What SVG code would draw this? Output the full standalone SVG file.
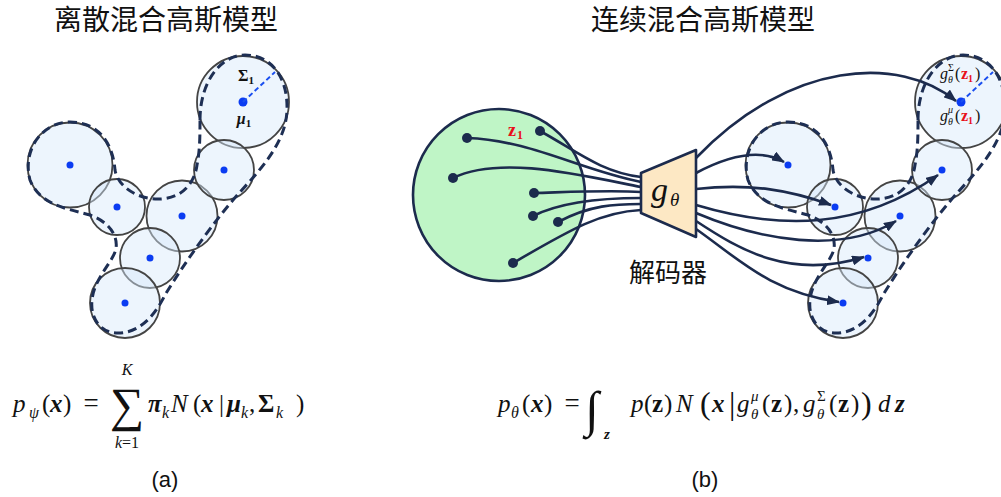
<svg xmlns="http://www.w3.org/2000/svg" width="1001" height="497" viewBox="0 0 1001 497">
<defs>
<style>
.cjk{font-family:"Noto Sans CJK SC","Noto Sans CJK JP",sans-serif;fill:#111}
.m{font-family:"Liberation Serif","DejaVu Serif",serif;fill:#111}
.i{font-style:italic}
.b{font-weight:bold}
.lab{font-family:"Liberation Sans",Arial,sans-serif;font-size:22px;fill:#111}
.gc{fill:#d6e8fa;fill-opacity:0.45;stroke:#444;stroke-width:1.8}
.dot{fill:#0b3cf2}
.outline{fill:none;stroke:#1e2f54;stroke-width:3;stroke-dasharray:9 5}
.rad{stroke:#1a4ff0;stroke-width:2;stroke-dasharray:5 3}
.ln{fill:none;stroke:#1c2b4d;stroke-width:2.6}
.ar{fill:none;stroke:#1c2b4d;stroke-width:2.6;marker-end:url(#ah)}
.zd{fill:#1c2b4d}
.red{fill:#e8101a}
</style>
<marker id="ah" markerUnits="userSpaceOnUse" markerWidth="13" markerHeight="10" refX="12" refY="5" orient="auto">
<path d="M0,0 L13,5 L0,10 Z" fill="#1c2b4d"/>
</marker>
<path id="outl" d="M 200 120 C 200 80, 222 55, 245 55 C 272 55, 288 78, 287 110 C 286 140, 265 165, 240 192 C 215 220, 185 262, 165 295 C 155 315, 140 333, 118 333 C 100 333, 90 318, 92 300 C 94 280, 110 265, 115 252 C 120 238, 110 222, 90 215 C 65 208, 40 205, 30 180 C 22 150, 42 122, 70 122 C 100 122, 113 145, 115 170 C 118 188, 140 200, 160 199 C 185 198, 195 180, 197 165 C 200 150, 200 135, 200 120 Z"/>
</defs>
<rect width="1001" height="497" fill="#fff"/>

<text class="cjk" x="166" y="30" font-size="28" text-anchor="middle">离散混合高斯模型</text>
<text class="cjk" x="703" y="30" font-size="28" text-anchor="middle">连续混合高斯模型</text>

<!-- left discrete GMM -->
<g id="gmm-a">
<g id="a-c1"><circle class="gc" cx="243" cy="102" r="46"/><circle class="dot" cx="243" cy="102" r="4.5"/></g>
<g id="a-c2"><circle class="gc" cx="70" cy="165" r="42.5"/><circle class="dot" cx="70" cy="165" r="3.5"/></g>
<g id="a-c3"><circle class="gc" cx="117" cy="207" r="28"/><circle class="dot" cx="117" cy="207" r="3.5"/></g>
<g id="a-c4"><circle class="gc" cx="182" cy="216" r="35.5"/><circle class="dot" cx="182" cy="216" r="3.5"/></g>
<g id="a-c5"><circle class="gc" cx="224" cy="170" r="30"/><circle class="dot" cx="224" cy="170" r="3.5"/></g>
<g id="a-c6"><circle class="gc" cx="150" cy="258" r="30"/><circle class="dot" cx="150" cy="258" r="3.5"/></g>
<g id="a-c7"><circle class="gc" cx="125" cy="303" r="35"/><circle class="dot" cx="125" cy="303" r="3.5"/></g>
<use href="#outl" class="outline"/>
<line class="rad" x1="243" y1="102" x2="275" y2="72"/>
<text class="m b" x="246" y="81" font-size="16" text-anchor="middle">Σ<tspan font-size="11" dy="3">1</tspan></text>
<text class="m b i" x="244" y="124" font-size="16" text-anchor="middle">μ<tspan font-size="11" dy="3" font-style="normal">1</tspan></text>
</g>

<!-- right continuous GMM cluster -->
<g id="gmm-b">
<g id="b-c1"><circle class="gc" cx="961" cy="102" r="46"/><circle class="dot" cx="961" cy="102" r="4.5"/></g>
<g id="b-c2"><circle class="gc" cx="788" cy="165" r="42.5"/><circle class="dot" cx="788" cy="165" r="3.5"/></g>
<g id="b-c3"><circle class="gc" cx="835" cy="207" r="28"/><circle class="dot" cx="835" cy="207" r="3.5"/></g>
<g id="b-c4"><circle class="gc" cx="900" cy="216" r="35.5"/><circle class="dot" cx="900" cy="216" r="3.5"/></g>
<g id="b-c5"><circle class="gc" cx="942" cy="170" r="30"/><circle class="dot" cx="942" cy="170" r="3.5"/></g>
<g id="b-c6"><circle class="gc" cx="868" cy="258" r="30"/><circle class="dot" cx="868" cy="258" r="3.5"/></g>
<g id="b-c7"><circle class="gc" cx="843" cy="303" r="35"/><circle class="dot" cx="843" cy="303" r="3.5"/></g>
<use href="#outl" class="outline" transform="translate(718,0)"/>
<line class="rad" x1="961" y1="102" x2="993" y2="72"/>
<text class="m i" x="940" y="79" font-size="16">g</text>
<text class="m" x="948" y="71" font-size="10">Σ</text>
<text class="m i" x="948" y="83" font-size="10">θ</text>
<text class="m" x="955" y="79" font-size="16">(</text>
<text class="m b red" x="961" y="79" font-size="16">z</text>
<text class="m b red" x="968" y="82" font-size="10">1</text>
<text class="m" x="975" y="79" font-size="16">)</text>
<text class="m i" x="940" y="121" font-size="16">g</text>
<text class="m i" x="948" y="113" font-size="10">μ</text>
<text class="m i" x="948" y="125" font-size="10">θ</text>
<text class="m" x="955" y="121" font-size="16">(</text>
<text class="m b red" x="961" y="121" font-size="16">z</text>
<text class="m b red" x="968" y="124" font-size="10">1</text>
<text class="m" x="975" y="121" font-size="16">)</text>
</g>

<!-- latent space -->
<g id="latent">
<circle cx="499" cy="195" r="86" fill="#bff5c6" stroke="#1c2b4d" stroke-width="2.6"/>
</g>

<g id="connectors">
<path class="ln" d="M 540 131 C 575 150, 600 172, 641 177"/>
<path class="ln" d="M 467 138 C 530 140, 580 170, 641 182"/>
<path class="ln" d="M 453 178 C 500 155, 580 175, 641 187"/>
<path class="ln" d="M 534 193 C 570 192, 610 190, 641 192"/>
<path class="ln" d="M 533 216 C 565 200, 610 198, 641 198"/>
<path class="ln" d="M 558 222 C 590 205, 615 204, 641 204"/>
<path class="ln" d="M 513 263 C 570 230, 600 212, 641 210"/>

<path class="ar" d="M 696 158 C 790 60, 900 55, 956 101"/>
<path class="ar" d="M 696 173 C 730 155, 760 148, 784 162"/>
<path class="ar" d="M 696 189 C 750 183, 790 190, 831 205"/>
<path class="ar" d="M 696 205 C 780 230, 860 230, 938 175"/>
<path class="ar" d="M 696 213 C 760 240, 840 255, 896 221"/>
<path class="ar" d="M 696 221 C 740 250, 790 280, 864 257"/>
<path class="ar" d="M 696 229 C 740 260, 770 292, 839 302"/>
</g>

<g id="z-dots">
<circle class="zd" cx="467" cy="138" r="5"/>
<circle class="zd" cx="540" cy="131" r="5"/>
<circle class="zd" cx="453" cy="178" r="5"/>
<circle class="zd" cx="534" cy="193" r="5"/>
<circle class="zd" cx="533" cy="216" r="5"/>
<circle class="zd" cx="558" cy="222" r="5"/>
<circle class="zd" cx="513" cy="263" r="5"/>
<text class="m b red" x="508" y="136" font-size="18">z</text>
<text class="m b red" x="517" y="139" font-size="12">1</text>
</g>

<g id="decoder">
<polygon points="641,173 696,150 696,237 641,213" fill="#fde8c4" stroke="#1c2b4d" stroke-width="2.6" stroke-linejoin="round"/>
<text class="m i" x="651" y="201" font-size="34">g</text>
<text class="m i" x="670" y="206" font-size="19">θ</text>
<text class="cjk" x="668" y="282" font-size="26" text-anchor="middle">解码器</text>
</g>

<!-- formula (a) -->
<g id="formula-a">
<text class="m i" x="13" y="412" font-size="25">p</text>
<text class="m i" x="29" y="418" font-size="16">ψ</text>
<text class="m" x="42" y="412" font-size="25">(</text>
<text class="m i b" x="50" y="412" font-size="25">x</text>
<text class="m" x="63" y="412" font-size="25">)</text>
<text class="m" x="91" y="412" text-anchor="middle" font-size="27">=</text>
<text class="m" x="127" y="421" text-anchor="middle" font-size="48">∑</text>
<text class="m i" x="127" y="375" text-anchor="middle" font-size="16">K</text>
<text class="m i" x="127" y="448" text-anchor="middle" font-size="16">k<tspan font-style="normal">=1</tspan></text>
<text class="m i b" x="148" y="412" font-size="25">π</text>
<text class="m i" x="162" y="418" font-size="16">k</text>
<text class="m i" x="171" y="412" font-size="25">N</text>
<text class="m" x="193" y="412" font-size="25">(</text>
<text class="m i b" x="201" y="412" font-size="25">x</text>
<text class="m" x="219" y="412" font-size="25">|</text>
<text class="m i b" x="227" y="412" font-size="25">μ</text>
<text class="m i" x="241" y="418" font-size="16">k</text>
<text class="m" x="249" y="412" font-size="25">,</text>
<text class="m b" x="258" y="412" font-size="25">Σ</text>
<text class="m i" x="276" y="418" font-size="16">k</text>
<text class="m" x="296" y="412" font-size="25">)</text>
<text class="lab" x="165" y="487" text-anchor="middle">(a)</text>
</g>

<!-- formula (b) -->
<g id="formula-b">
<text class="m i" x="498" y="412" font-size="25">p</text>
<text class="m i" x="511" y="418" font-size="16">θ</text>
<text class="m" x="522" y="412" font-size="25">(</text>
<text class="m i b" x="531" y="412" font-size="25">x</text>
<text class="m" x="544" y="412" font-size="25">)</text>
<text class="m" x="572" y="412" text-anchor="middle" font-size="27">=</text>
<text class="m i" x="585" y="426" font-size="50">∫</text>
<text class="m i b" x="604" y="439" font-size="15">z</text>
<text class="m i" x="631" y="412" font-size="25">p</text>
<text class="m" x="644" y="412" font-size="25">(</text>
<text class="m b" x="652" y="412" font-size="25">z</text>
<text class="m" x="664" y="412" font-size="25">)</text>
<text class="m i" x="676" y="412" font-size="25">N</text>
<text class="m" x="700" y="414" font-size="32">(</text>
<text class="m i b" x="712" y="412" font-size="25">x</text>
<text class="m" x="729" y="414" font-size="32">|</text>
<text class="m i" x="737" y="412" font-size="25">g</text>
<text class="m i" x="751" y="401" font-size="15">μ</text>
<text class="m i" x="751" y="419" font-size="15">θ</text>
<text class="m" x="762" y="412" font-size="25">(</text>
<text class="m b" x="771" y="412" font-size="25">z</text>
<text class="m" x="784" y="412" font-size="25">)</text>
<text class="m" x="793" y="412" font-size="25">,</text>
<text class="m i" x="803" y="412" font-size="25">g</text>
<text class="m" x="817" y="401" font-size="15">Σ</text>
<text class="m i" x="817" y="419" font-size="15">θ</text>
<text class="m" x="829" y="412" font-size="25">(</text>
<text class="m b" x="838" y="412" font-size="25">z</text>
<text class="m" x="851" y="412" font-size="25">)</text>
<text class="m" x="861" y="414" font-size="32">)</text>
<text class="m i" x="878" y="412" font-size="25">d</text>
<text class="m i b" x="895" y="412" font-size="25">z</text>
<text class="lab" x="705" y="487" text-anchor="middle">(b)</text>
</g>
</svg>
